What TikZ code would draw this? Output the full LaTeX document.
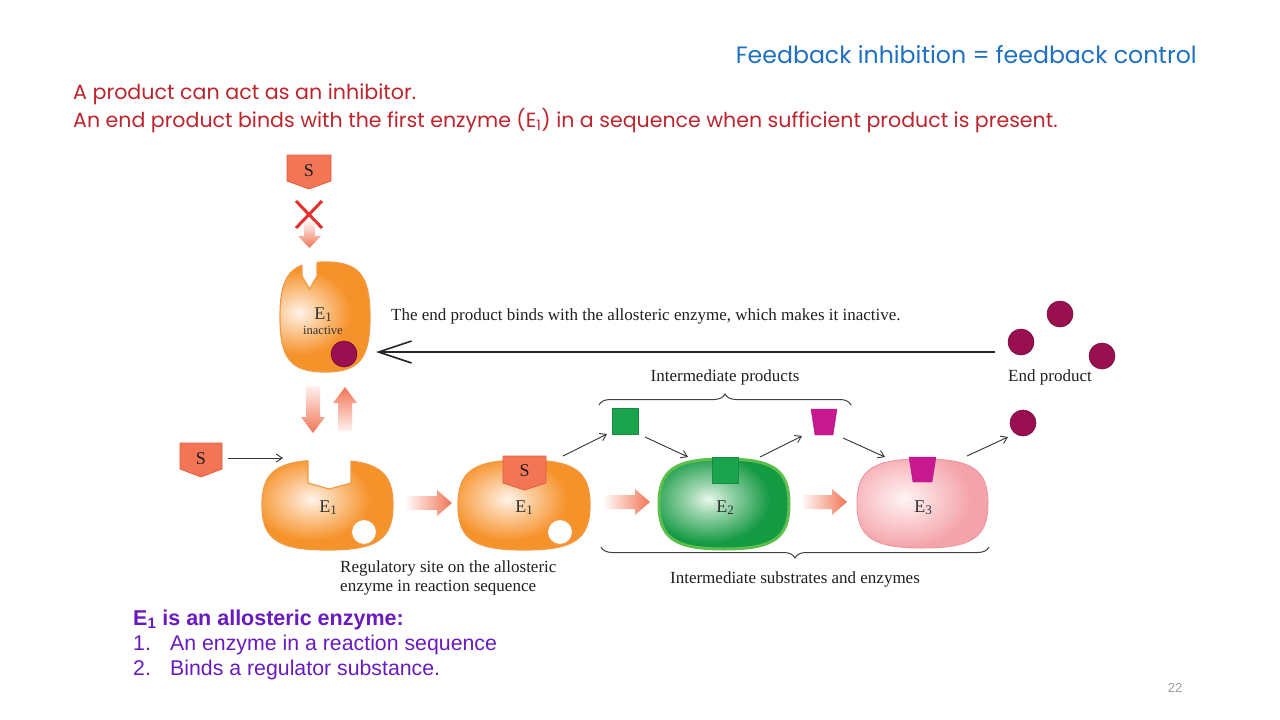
\documentclass[tikz,border=0pt]{standalone}
\usepackage{fontspec}
\setmainfont{Liberation Serif}
\newfontfamily\gothic{Poppins}
\newfontfamily\arialf{Liberation Sans}
\usetikzlibrary{arrows.meta,decorations.pathreplacing}

\definecolor{titleblue}{HTML}{1F70C1}
\definecolor{redtxt}{HTML}{BC252D}
\definecolor{purptxt}{HTML}{6A1BC0}
\definecolor{salmon}{HTML}{F27556}
\definecolor{salmonEdge}{HTML}{E2603F}
\definecolor{orgOut}{HTML}{F6922A}
\definecolor{orgEdge}{HTML}{F09A45}
\definecolor{orgIn}{HTML}{FFF4EA}
\definecolor{grnOut}{HTML}{159A44}
\definecolor{grnRim}{HTML}{5CBF4C}
\definecolor{grnIn}{HTML}{EAF7EC}
\definecolor{pnkOut}{HTML}{F4A3AA}
\definecolor{pnkEdge}{HTML}{EE9AA3}
\definecolor{pnkIn}{HTML}{FFF4F4}
\definecolor{endprod}{HTML}{990F50}
\definecolor{endEdge}{HTML}{6E0A38}
\definecolor{sqgreen}{HTML}{1BA34D}
\definecolor{trapmag}{HTML}{C81890}
\definecolor{xred}{HTML}{E2302E}
\definecolor{pagegray}{HTML}{9A9A9A}

\pgfdeclareradialshading{enzshO}{\pgfpoint{0bp}{0bp}}{color(0bp)=(orgIn); color(6bp)=(orgIn!65!orgOut); color(18bp)=(orgOut); color(50bp)=(orgOut)}
\pgfdeclareradialshading{enzshG}{\pgfpoint{0bp}{0bp}}{color(0bp)=(grnIn); color(6bp)=(grnIn!65!grnOut); color(19bp)=(grnOut); color(50bp)=(grnOut)}
\pgfdeclareradialshading{enzshP}{\pgfpoint{0bp}{0bp}}{color(0bp)=(pnkIn); color(7bp)=(pnkIn!65!pnkOut); color(20bp)=(pnkOut); color(50bp)=(pnkOut)}

\newcommand\FitTxt[3]{\setbox0=\hbox{#1\fontsize{10pt}{12pt}\selectfont #3}%
  \pgfmathsetmacro\fitsz{10*#2/\the\wd0}%
  #1\fontsize{\fitsz pt}{\fitsz pt}\selectfont #3}
\newcommand\Esub[1]{E\raisebox{-0.35ex}{\fontsize{13pt}{13pt}\selectfont #1}}

\begin{document}
\begin{tikzpicture}[x=1pt,y=-1pt,
  lbl/.style={font=\fontsize{17pt}{19pt}\selectfont, inner sep=0pt, text=black!88},
  elbl/.style={font=\fontsize{18pt}{19pt}\selectfont, inner sep=0pt, text=black!80},
  blob/.style n args={4}{insert path={({#1+#3},{#2}) .. controls ({#1+#3},{#2-0.76*#4}) and ({#1+0.76*#3},{#2-#4}) .. ({#1},{#2-#4}) .. controls ({#1-0.76*#3},{#2-#4}) and ({#1-#3},{#2-0.76*#4}) .. ({#1-#3},{#2}) .. controls ({#1-#3},{#2+0.76*#4}) and ({#1-0.76*#3},{#2+#4}) .. ({#1},{#2+#4}) .. controls ({#1+0.76*#3},{#2+#4}) and ({#1+#3},{#2+0.76*#4}) .. ({#1+#3},{#2}) -- cycle}},
  enzO/.style={fill=orgOut, draw=orgEdge, line width=1.2pt, path picture={\shade[shading=enzshO] ([xshift=-26pt,yshift=6pt]path picture bounding box.center) ellipse [x radius=72pt, y radius=58pt];}},
  enzG/.style={fill=grnOut, draw=grnRim, line width=3pt, path picture={\shade[shading=enzshG] ([xshift=-24pt,yshift=5pt]path picture bounding box.center) ellipse [x radius=72pt, y radius=58pt];}},
  enzP/.style={fill=pnkOut, draw=pnkEdge, line width=1pt, path picture={\shade[shading=enzshP] ([xshift=-24pt,yshift=5pt]path picture bounding box.center) ellipse [x radius=78pt, y radius=62pt];}},
  notchline/.style={draw=orgEdge, line width=1.2pt},
  sub/.style={fill=salmon, draw=salmonEdge, line width=0.8pt},
  thinarr/.style={draw=black!80, line width=0.9pt, -{Straight Barb[length=6pt,width=8pt]}},
  hfat/.style n args={3}{insert path={(#1,{#3-7}) -- ({#2-15},{#3-7}) -- ({#2-15},{#3-13}) -- (#2,#3) -- ({#2-15},{#3+13}) -- ({#2-15},{#3+7}) -- (#1,{#3+7}) -- cycle}},
  fatH/.style={left color=salmon!6, right color=salmon},
  fatDown/.style={top color=salmon!10, bottom color=salmon},
  fatUp/.style={top color=salmon, bottom color=salmon!10},
  endc/.style={fill=endprod, draw=endEdge, line width=0.6pt},
  holec/.style={fill=white, draw=orgEdge!80!orgOut, line width=1pt},
  brc/.style={draw=black!75, line width=1pt, decorate, decoration={brace, amplitude=11pt}},
  ptxt/.style={anchor=base west, inner sep=0pt, text=purptxt, font=\arialf\fontsize{21.3pt}{22pt}\selectfont},
]
\useasboundingbox (0,0) rectangle (1280,720);

% ---------- texts ----------
\node[anchor=base east, inner sep=0pt, text=titleblue] (title) at (1197,63) {\FitTxt{\gothic}{461}{Feedback inhibition = feedback control}};
\node[anchor=base west, inner sep=0pt, text=redtxt] (red1) at (73,99) {\FitTxt{\gothic}{343}{A product can act as an inhibitor.}};
\node[anchor=base west, inner sep=0pt, text=redtxt] (red2) at (73,127) {\FitTxt{\gothic}{985}{An end product binds with the first enzyme (E\textsubscript{1}) in a sequence when sufficient product is present.}};

% ---------- top S, X, arrow ----------
\path[sub] (287,155) -- (331,155) -- (331,181) -- (309,189) -- (287,181) -- cycle;
\node[lbl, font=\fontsize{18pt}{19pt}\selectfont] (sTop) at (309,171) {S};
\draw[xred, line width=3pt] (296,201) -- (322,228) (322,201) -- (296,228);
\path[fatDown] (304,222) -- (315,222) -- (315,236) -- (321,236) -- (309.5,248) -- (298,236) -- (304,236) -- cycle;

% ---------- inactive E1 ----------
\path[enzO, blob={325}{317}{45}{55}];
\fill[white] (302,250) -- (302,276) -- (309.5,289) -- (317,276) -- (317,250) -- cycle;
\begin{scope}
  \clip[blob={325}{317}{45}{55}];
  \draw[notchline] (302,250) -- (302,276) -- (309.5,289) -- (317,276) -- (317,250);
\end{scope}
\node[elbl, anchor=base] (e1i) at (323,319) {\Esub{1}};
\node[inner sep=0pt, anchor=base, font=\fontsize{12.5pt}{13pt}\selectfont, text=black!80] (inact) at (323,334) {inactive};
\path[endc] (344,354) circle (13pt);

% ---------- up/down arrows ----------
\path[fatDown] (306,386) -- (320,386) -- (320,417) -- (325,417) -- (313,433) -- (301,417) -- (306,417) -- cycle;
\path[fatUp] (338,431) -- (352,431) -- (352,403) -- (357,403) -- (345,387) -- (333,403) -- (338,403) -- cycle;

% ---------- long feedback arrow ----------
\coordinate (fbStart) at (995,352);
\coordinate (fbEnd) at (376,352);
\draw[black!85, line width=1.6pt, -{Straight Barb[length=33pt,width=22pt,line width=1.6pt]}] (fbStart) -- (fbEnd);
\node[lbl, anchor=base west] (fbText) at (391,320) {The end product binds with the allosteric enzyme, which makes it inactive.};

% ---------- end product ----------
\path[endc] (1060,314) circle (13pt);
\path[endc] (1021,342) circle (13pt);
\path[endc] (1102,356) circle (13pt);
\node[lbl, anchor=base west] (endTxt) at (1008,381) {End product};
\path[endc] (1023,423) circle (13pt);

% ---------- left S ----------
\path[sub] (180,443) -- (222,443) -- (222,469) -- (201,477) -- (180,469) -- cycle;
\node[lbl, font=\fontsize{18pt}{19pt}\selectfont] (sLeft) at (201,459) {S};
\coordinate (sArrA) at (228,458);
\coordinate (sArrB) at (283,458);
\draw[thinarr] (sArrA) -- (sArrB);

% ---------- E1 active ----------
\path[enzO, blob={327.5}{505}{65.5}{45}];
\fill[white] (308,452) -- (308,483) -- (329.5,489) -- (351,483) -- (351,452) -- cycle;
\begin{scope}
  \clip[blob={327.5}{505}{65.5}{45}];
  \draw[notchline] (308,452) -- (308,483) -- (329.5,489) -- (351,483) -- (351,452);
\end{scope}
\node[elbl, anchor=base] (e1a) at (328,512) {\Esub{1}};
\path[holec] (364,532) circle (12.5pt);

\path[fatH, hfat={407}{452}{503}];

% ---------- E1 with S ----------
\path[enzO, blob={524}{505}{66}{45}];
\path[sub] (503,456) -- (546,456) -- (546,483) -- (524.5,490) -- (503,483) -- cycle;
\node[lbl, font=\fontsize{18pt}{19pt}\selectfont] (sIn) at (524.5,471) {S};
\node[elbl, anchor=base] (e1s) at (524,512) {\Esub{1}};
\path[holec] (560,532) circle (12.5pt);

\coordinate (a1s) at (563,456);
\coordinate (a1e) at (607,434);
\draw[thinarr] (a1s) -- (a1e);

% green square
\filldraw[fill=sqgreen, draw=sqgreen!85!black, line width=0.4pt] (612,408) rectangle (638,434);
\coordinate (a2s) at (645,437);
\coordinate (a2e) at (688,457);
\draw[thinarr] (a2s) -- (a2e);

\path[fatH, hfat={605}{650}{502}];

% ---------- E2 ----------
\path[enzG, blob={724}{504}{65}{45}];
\filldraw[fill=sqgreen, draw=sqgreen!85!black, line width=0.4pt] (712,457) rectangle (738,483);
\node[elbl, anchor=base] (e2) at (725,512) {\Esub{2}};

\coordinate (a3s) at (760,457);
\coordinate (a3e) at (802,436);
\draw[thinarr] (a3s) -- (a3e);

% magenta trapezoid
\filldraw[fill=trapmag, draw=trapmag!85!black, line width=0.4pt] (811,409) -- (837,409) -- (833,435) -- (815,435) -- cycle;
\coordinate (a4s) at (843,438);
\coordinate (a4e) at (885,457);
\draw[thinarr] (a4s) -- (a4e);

\path[fatH, hfat={803}{847}{502}];

% ---------- E3 ----------
\path[enzP, blob={922.5}{503.5}{65.5}{44.5}];
\filldraw[fill=trapmag, draw=trapmag!85!black, line width=0.4pt] (909,457) -- (936,457) -- (932,482) -- (913,482) -- cycle;
\node[elbl, anchor=base] (e3) at (923,512) {\Esub{3}};

\coordinate (a5s) at (967,456);
\coordinate (a5e) at (1008,437);
\draw[thinarr] (a5s) -- (a5e);

% ---------- braces ----------
\coordinate (b1l) at (599,405);
\coordinate (b1r) at (851,405);
\draw[brc] (b1l) -- (b1r);
\node[lbl, anchor=base] (ipTxt) at (725,381) {Intermediate products};

\coordinate (b2l) at (601,547);
\coordinate (b2r) at (989,547);
\draw[brc, decoration={mirror}] (b2l) -- (b2r);
\node[lbl, anchor=base] (isTxt) at (795,583) {Intermediate substrates and enzymes};

\node[lbl, anchor=base west] (reg1) at (340,572) {Regulatory site on the allosteric};
\node[lbl, anchor=base west] (reg2) at (340,591) {enzyme in reaction sequence};

% ---------- bottom text ----------
\node[ptxt, font=\arialf\bfseries\fontsize{21.5pt}{22pt}\selectfont] (b0) at (133,625) {E\textsubscript{1} is an allosteric enzyme:};
\node[ptxt] (b1n) at (133,650) {1.};
\node[ptxt] (b1t) at (170,650) {An enzyme in a reaction sequence};
\node[ptxt] (b2n) at (133,675) {2.};
\node[ptxt] (b2t) at (170,675) {Binds a regulator substance.};

\node[anchor=base, inner sep=0pt, text=pagegray, font=\arialf\fontsize{13pt}{14pt}\selectfont] (pg) at (1175,692) {22};
\end{tikzpicture}
\end{document}
